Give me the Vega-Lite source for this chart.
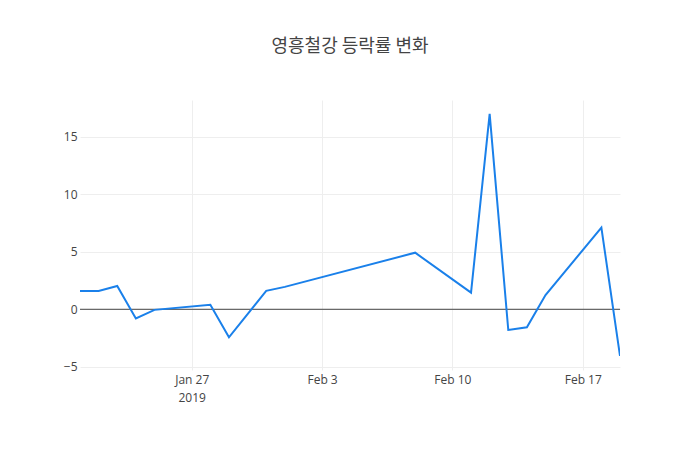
{
  "$schema": "https://vega.github.io/schema/vega-lite/v6.json",
  "width": 540,
  "height": 270,
  "autosize": {"type": "none"},
  "padding": {"left": 80, "top": 100, "right": 80, "bottom": 80},
  "background": "white",
  "title": {"text": "영흥철강 등락률 변화", "font": "Noto Sans CJK KR", "fontSize": 18, "fontWeight": "normal", "color": "#444", "anchor": "middle", "offset": 44},
  "config": {"view": {"stroke": null}, "axis": {"labelFont": "Open Sans", "labelFontSize": 12, "labelColor": "#444", "gridColor": "#eee", "gridWidth": 1}},
  "data": {"values": [
    {"date": "2019-01-21", "rate": 1.59},
    {"date": "2019-01-22", "rate": 1.59},
    {"date": "2019-01-23", "rate": 2.03},
    {"date": "2019-01-24", "rate": -0.8},
    {"date": "2019-01-25", "rate": -0.05},
    {"date": "2019-01-28", "rate": 0.4},
    {"date": "2019-01-29", "rate": -2.44},
    {"date": "2019-01-31", "rate": 1.6},
    {"date": "2019-02-01", "rate": 1.95},
    {"date": "2019-02-08", "rate": 4.92},
    {"date": "2019-02-11", "rate": 1.45},
    {"date": "2019-02-12", "rate": 17.0},
    {"date": "2019-02-13", "rate": -1.8},
    {"date": "2019-02-14", "rate": -1.57},
    {"date": "2019-02-15", "rate": 1.24},
    {"date": "2019-02-18", "rate": 7.1},
    {"date": "2019-02-19", "rate": -4.06}
  ]},
  "layer": [
    {
      "mark": {"type": "rule", "color": "#444", "strokeWidth": 1},
      "data": {"values": [{"z": 0}]},
      "encoding": {"y": {"field": "z", "type": "quantitative", "scale": {"domain": [-5.28, 18.2], "nice": false, "zero": false}}}
    },
    {
      "mark": {"type": "line", "color": "#1a80ea", "strokeWidth": 2, "clip": true},
      "encoding": {
        "x": {"field": "date", "type": "temporal", "title": null,
          "scale": {"type": "utc", "domain": [{"year": 2019, "month": 1, "date": 21, "utc": true}, {"year": 2019, "month": 2, "date": 19, "utc": true}], "nice": false},
          "axis": {"values": [{"year": 2019, "month": 1, "date": 27, "utc": true}, {"year": 2019, "month": 2, "date": 3, "utc": true}, {"year": 2019, "month": 2, "date": 10, "utc": true}, {"year": 2019, "month": 2, "date": 17, "utc": true}],
            "labelExpr": "datum.index == 0 ? [utcFormat(datum.value, '%b %-d'), '2019'] : utcFormat(datum.value, '%b %-d')",
            "domain": false, "ticks": false, "labelPadding": 4, "labelLineHeight": 18, "labelFlush": false}},
        "y": {"field": "rate", "type": "quantitative", "title": null,
          "scale": {"domain": [-5.28, 18.2], "nice": false, "zero": false},
          "axis": {"values": [-5, 0, 5, 10, 15], "domain": false, "ticks": false, "labelPadding": 3}}
      }
    }
  ]
}
